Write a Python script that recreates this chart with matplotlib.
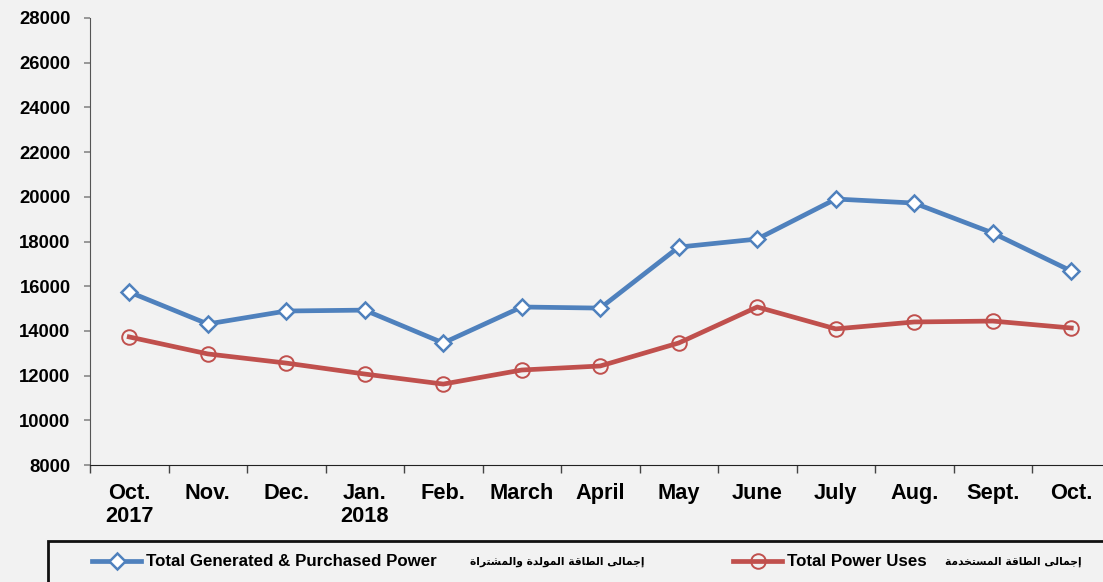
# power_chart.py
import matplotlib
matplotlib.use("Agg")
import matplotlib.pyplot as plt
from matplotlib.patches import Rectangle
from matplotlib.ticker import FixedLocator

months = ["Oct.\n2017", "Nov.", "Dec.", "Jan.\n2018", "Feb.", "March", "April",
          "May", "June", "July", "Aug.", "Sept.", "Oct."]
generated = [15740, 14310, 14890, 14930, 13460, 15070, 15020,
             17750, 18110, 19900, 19720, 18380, 16680]
uses = [13730, 12970, 12560, 12070, 11620, 12250, 12430,
        13460, 15070, 14090, 14400, 14440, 14130]
y_ticks = list(range(8000, 28001, 2000))

label_gen_en = "Total Generated & Purchased Power"
label_use_en = "Total Power Uses"
label_gen_ar = "إجمالى الطاقة المولدة والمشتراة"
label_use_ar = "إجمالى الطاقة المستخدمة"

BLUE = "#4f81bd"
RED = "#c0504d"
BG = "#f2f2f2"

# minimal arabic shaping (matplotlib has no bidi / joining support)
# char -> (isolated, final, initial, medial); 2-tuple = does not join to the next letter
FORMS = {
    "ا": ("\ufe8d", "\ufe8e"), "إ": ("\ufe87", "\ufe88"), "د": ("\ufea9", "\ufeaa"),
    "ر": ("\ufead", "\ufeae"), "و": ("\ufeed", "\ufeee"), "ة": ("\ufe93", "\ufe94"),
    "ى": ("\ufeef", "\ufef0"),
    "ت": ("\ufe95", "\ufe96", "\ufe97", "\ufe98"), "ج": ("\ufe9d", "\ufe9e", "\ufe9f", "\ufea0"),
    "خ": ("\ufea5", "\ufea6", "\ufea7", "\ufea8"), "س": ("\ufeb1", "\ufeb2", "\ufeb3", "\ufeb4"),
    "ش": ("\ufeb5", "\ufeb6", "\ufeb7", "\ufeb8"), "ط": ("\ufec1", "\ufec2", "\ufec3", "\ufec4"),
    "ق": ("\ufed5", "\ufed6", "\ufed7", "\ufed8"), "ل": ("\ufedd", "\ufede", "\ufedf", "\ufee0"),
    "م": ("\ufee1", "\ufee2", "\ufee3", "\ufee4"),
}

def shape_ar(text):
    out = []
    for word in text.split(" "):
        res = []
        for i, ch in enumerate(word):
            f = FORMS.get(ch)
            if f is None:
                res.append(ch)
                continue
            prev = FORMS.get(word[i-1]) if i > 0 else None
            nxt = word[i+1] if i + 1 < len(word) else None
            join_prev = prev is not None and len(prev) == 4
            join_next = len(f) == 4 and nxt in FORMS
            if join_prev and join_next:
                res.append(f[3])
            elif join_prev:
                res.append(f[1])
            elif join_next:
                res.append(f[2])
            else:
                res.append(f[0])
        out.append("".join(res))
    return " ".join(out)[::-1]

plt.rcParams["font.family"] = ["Liberation Sans", "DejaVu Sans"]
plt.rcParams["font.weight"] = "bold"

W, H = 1103, 582
fig = plt.figure(figsize=(W/100, H/100), dpi=100, facecolor=BG)
ax = fig.add_axes([90/W, 117/H, 1 - 90/W, 447/H], facecolor=BG)

x = list(range(len(months)))
ax.plot(x, generated, color=BLUE, lw=3.4, marker="D", ms=8, mfc="white",
        mec=BLUE, mew=1.8, label=label_gen_en, zorder=3)
ax.plot(x, uses, color=RED, lw=3.4, marker="o", ms=10.5, mfc="none",
        mec=RED, mew=1.4, label=label_use_en, zorder=3)

ax.set_ylim(8000, 28000)
ax.set_xlim(-0.5, -0.5 + (W - 90) / 78.5)
ax.set_yticks(y_ticks)
ax.set_yticklabels([str(v) for v in y_ticks], fontsize=13.3, fontweight="bold")
ax.set_xticks(x)
ax.set_xticklabels(months, fontsize=15.7, fontweight="bold", linespacing=1.15)
ax.xaxis.set_minor_locator(FixedLocator([i + 0.5 for i in range(-1, len(months))]))
ax.tick_params(axis="x", which="major", length=0, pad=13)
ax.tick_params(axis="x", which="minor", length=6, width=1, color="#444444", direction="out")
ax.tick_params(axis="y", length=4, width=1.2, color="#888888", pad=10)

for s in ["top", "right"]:
    ax.spines[s].set_visible(False)
ax.spines["left"].set_color("#555555")
ax.spines["bottom"].set_color("#222222")

# legend box across the bottom
fig.patches.append(Rectangle((48/W, -0.2), 1.2, 0.2 + (H - 541)/H, transform=fig.transFigure,
                             fill=False, edgecolor="#111111", lw=2))

handles, labels = ax.get_legend_handles_labels()
ly = 1 - 562/H
for h, l, xpos in [(handles[0], labels[0], 92), (handles[1], labels[1], 733)]:
    fig.legend([h], [l], loc="center left", bbox_to_anchor=(xpos/W, ly), frameon=False,
               borderpad=0, borderaxespad=0, handlelength=2.9, handletextpad=0.3,
               prop={"weight": "bold", "size": 12.2})

fig.text(644/W, ly, shape_ar(label_gen_ar), ha="right", va="center", fontsize=7.7,
         fontweight="bold", family=["DejaVu Sans"])
fig.text(1082/W, ly, shape_ar(label_use_ar), ha="right", va="center", fontsize=7.7,
         fontweight="bold", family=["DejaVu Sans"])

fig.savefig("out.png", dpi=100, facecolor=BG)
